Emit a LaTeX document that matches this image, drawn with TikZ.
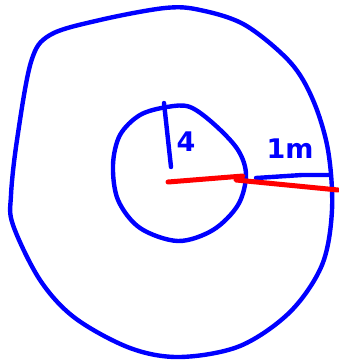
\documentclass[tikz,border=0pt]{standalone}
\usepackage{fontspec}
\setmainfont{DejaVu Sans}
\definecolor{pen}{HTML}{0000FF}
\definecolor{marker}{HTML}{FF0000}
\tikzset{
  stroke/.style={line width=4.4pt, line cap=round, line join=round},
  scrawl/.style={text=pen, font=\bfseries\fontsize{27}{27}\selectfont, inner sep=0pt}
}

\begin{document}
\begin{tikzpicture}[x=1pt,y=-1pt]
  \useasboundingbox (0,0) rectangle (338,361);
  % outer ring
  \draw[pen, stroke] plot[smooth cycle, tension=0.55] coordinates {
    (165,8) (200,10) (245,25) (290,62) (313,100) (328,150) (332,210)
    (322,265) (290,312) (240,346) (180,357) (130,348) (75,318)
    (40,280) (13,225) (11,195) (17,140) (31,62) (50,35) (100,20)};
  % inner ring
  \draw[pen, stroke] plot[smooth cycle, tension=0.55] coordinates {
    (167,107) (190,107) (215,125) (238,150) (246,175) (238,205)
    (213,230) (178,241) (140,228) (118,200) (113,165) (120,135) (140,115)};
  % radius tick and label
  \draw[pen, stroke] (164,103) -- (171,167);
  \node[scrawl] (lab4) at (186,142) {4};
  % width mark between the rings
  \draw[pen, stroke] (256,178) -- (302,175) -- (330,175);
  \node[scrawl] (lab1m) at (290,149) {1m};
  % red radius
  \draw[marker, stroke, line width=5pt] (168,182) -- (243,176) -- (236,180) -- (338,190);
\end{tikzpicture}
\end{document}
